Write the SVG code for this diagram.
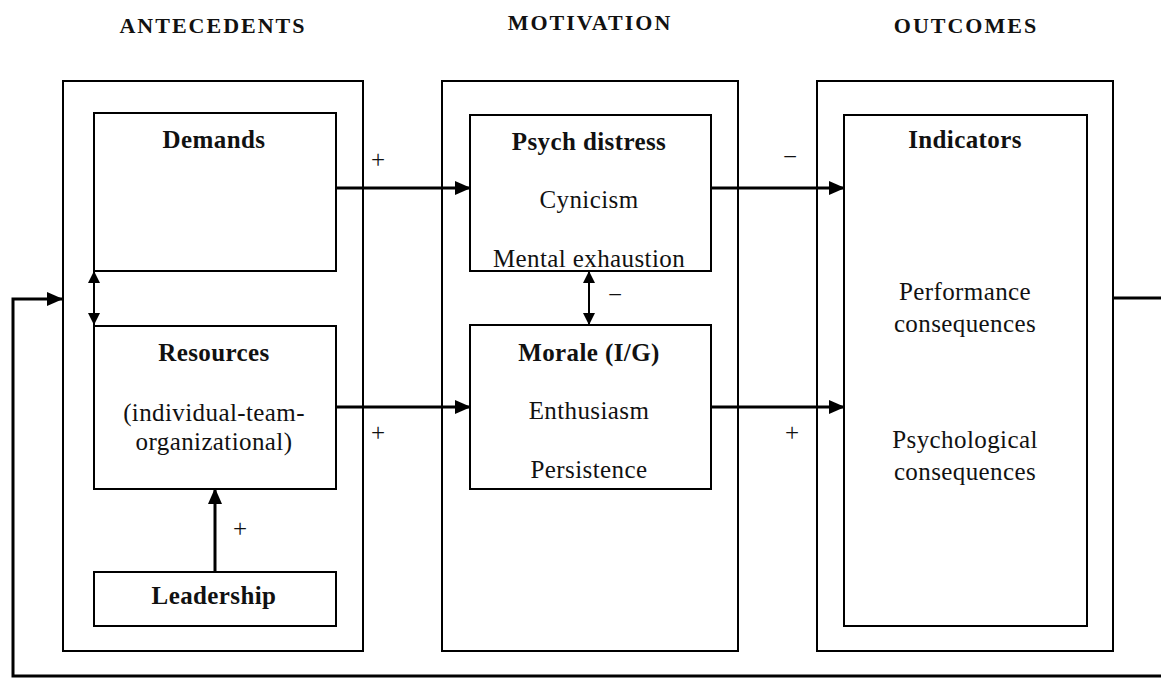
<svg xmlns="http://www.w3.org/2000/svg" width="1161" height="678" viewBox="0 0 1161 678">
<style>
.box{fill:none;stroke:#000;stroke-width:2}
.t{font-family:"Liberation Serif","Times New Roman",serif;font-size:25px;letter-spacing:0.4px;fill:#111;text-anchor:middle}
.b{font-weight:bold}
.h{font-family:"Liberation Serif","Times New Roman",serif;font-size:22px;font-weight:bold;fill:#111;text-anchor:middle;letter-spacing:2px}
.c{fill:none;stroke:#000;stroke-width:3}
.d{fill:none;stroke:#000;stroke-width:2}
.s{font-family:"Liberation Serif","Times New Roman",serif;font-size:25px;fill:#111;text-anchor:middle}
</style>
<defs>
<marker id="ah" markerUnits="userSpaceOnUse" markerWidth="16" markerHeight="14" refX="15" refY="7" orient="auto-start-reverse" viewBox="0 0 16 14">
<path d="M0,0 L16,7 L0,14 z" fill="#000"/>
</marker>
<marker id="ahs" markerUnits="userSpaceOnUse" markerWidth="12" markerHeight="12" refX="12" refY="6" orient="auto-start-reverse" viewBox="0 0 12 12">
<path d="M0,0 L12,6 L0,12 z" fill="#000"/>
</marker>
</defs>
<rect width="1161" height="678" fill="#fff"/>
<g id="titles">
<text class="h" x="213" y="33">ANTECEDENTS</text>
<text class="h" x="590" y="30">MOTIVATION</text>
<text class="h" x="966" y="33">OUTCOMES</text>
</g>
<g id="antecedents">
<rect class="box" x="63" y="81" width="300" height="570"/>
</g>
<g id="demands">
<rect class="box" x="94" y="113" width="242" height="158"/>
<text class="t b" x="214" y="148">Demands</text>
</g>
<g id="resources">
<rect class="box" x="94" y="326" width="242" height="163"/>
<text class="t b" x="214" y="361">Resources</text>
<text class="t" x="214" y="421">(individual-team-</text>
<text class="t" x="214" y="450">organizational)</text>
</g>
<g id="leadership">
<rect class="box" x="94" y="572" width="242" height="54"/>
<text class="t b" x="214" y="604">Leadership</text>
</g>
<g id="motivation">
<rect class="box" x="442" y="81" width="296" height="570"/>
</g>
<g id="psych">
<rect class="box" x="470" y="115" width="241" height="156"/>
<text class="t b" x="589" y="150">Psych distress</text>
<text class="t" x="589" y="208">Cynicism</text>
<text class="t" x="589" y="267">Mental exhaustion</text>
</g>
<g id="morale">
<rect class="box" x="470" y="325" width="241" height="164"/>
<text class="t b" x="589" y="361">Morale (I/G)</text>
<text class="t" x="589" y="419">Enthusiasm</text>
<text class="t" x="589" y="478">Persistence</text>
</g>
<g id="outcomes">
<rect class="box" x="817" y="81" width="296" height="570"/>
</g>
<g id="indicators">
<rect class="box" x="844" y="115" width="243" height="511"/>
<text class="t b" x="965" y="148">Indicators</text>
<text class="t" x="965" y="300">Performance</text>
<text class="t" x="965" y="332">consequences</text>
<text class="t" x="965" y="448">Psychological</text>
<text class="t" x="965" y="480">consequences</text>
</g>
<g id="connectors">
<line class="c" x1="336" y1="188" x2="470" y2="188" marker-end="url(#ah)"/>
<line class="c" x1="711" y1="188" x2="844" y2="188" marker-end="url(#ah)"/>
<line class="c" x1="336" y1="407" x2="470" y2="407" marker-end="url(#ah)"/>
<line class="c" x1="711" y1="407" x2="844" y2="407" marker-end="url(#ah)"/>
<line class="c" x1="215" y1="572" x2="215" y2="489" marker-end="url(#ah)"/>
<line class="d" x1="94" y1="271" x2="94" y2="325" marker-start="url(#ahs)" marker-end="url(#ahs)"/>
<line class="d" x1="589" y1="271" x2="589" y2="325" marker-start="url(#ahs)" marker-end="url(#ahs)"/>
<polyline class="c" points="1113,298 1161,298"/>
<polyline class="c" points="1161,676 13,676 13,299 62,299" marker-end="url(#ah)"/>
<text class="s" x="378" y="168">+</text>
<text class="s" x="790" y="165">−</text>
<text class="s" x="615" y="303">−</text>
<text class="s" x="378" y="441">+</text>
<text class="s" x="792" y="441">+</text>
<text class="s" x="240" y="537">+</text>
</g>
</svg>
